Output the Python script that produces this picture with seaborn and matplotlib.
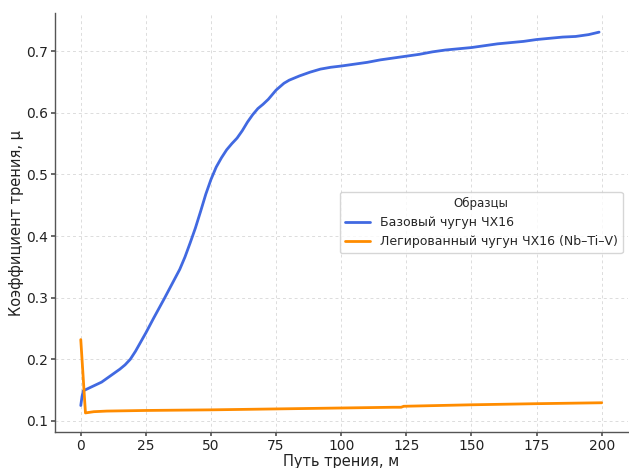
import matplotlib
matplotlib.use("Agg")
import matplotlib.pyplot as plt
import seaborn as sns
import pandas as pd

base_x = [0, 0.5, 1, 3, 5, 8, 11, 15, 17, 19, 21, 23, 25, 28, 32, 35, 38, 40, 42, 44, 46, 48,
          50, 52, 54, 56, 58, 60, 62, 64, 66, 68, 70, 72, 75, 78, 80, 84, 88, 92, 96, 100,
          105, 110, 115, 120, 125, 130, 135, 140, 145, 150, 155, 160, 165, 170, 175, 180,
          185, 190, 195, 199]
base_y = [0.125, 0.140, 0.149, 0.153, 0.157, 0.163, 0.172, 0.184, 0.191, 0.200, 0.213,
          0.228, 0.243, 0.267, 0.298, 0.322, 0.346, 0.366, 0.389, 0.413, 0.440, 0.468,
          0.492, 0.512, 0.527, 0.540, 0.550, 0.559, 0.571, 0.585, 0.597, 0.607, 0.614,
          0.622, 0.637, 0.648, 0.653, 0.660, 0.666, 0.671, 0.674, 0.676, 0.679, 0.682,
          0.686, 0.689, 0.692, 0.695, 0.699, 0.702, 0.704, 0.706, 0.709, 0.712, 0.714,
          0.716, 0.719, 0.721, 0.723, 0.724, 0.727, 0.731]

alloy_x = [0, 1.8, 5, 10, 25, 50, 75, 100, 120, 123, 124, 150, 175, 200]
alloy_y = [0.232, 0.113, 0.115, 0.116, 0.117, 0.118, 0.1195, 0.121, 0.1222, 0.1222,
           0.1238, 0.1262, 0.128, 0.1295]

labels = ["Базовый чугун ЧХ16", "Легированный чугун ЧХ16 (Nb–Ti–V)"]
colors = ["#4169E1", "#FF8C00"]

df = pd.concat([
    pd.DataFrame({"x": base_x, "y": base_y, "s": labels[0]}),
    pd.DataFrame({"x": alloy_x, "y": alloy_y, "s": labels[1]}),
])

sns.set_theme(style="ticks")
plt.rcParams["font.family"] = ["DejaVu Sans"]

fig, ax = plt.subplots(figsize=(6.29, 4.68), dpi=100)
fig.subplots_adjust(left=0.087, right=0.998, top=0.972, bottom=0.077)

sns.lineplot(data=df, x="x", y="y", hue="s", palette=colors, linewidth=2.0,
             ax=ax, sort=False, estimator=None)

ax.grid(True, linestyle=(0, (3, 3)), color="#dcdcdc", linewidth=0.7)
ax.set_axisbelow(True)
for s in ["top", "right"]:
    ax.spines[s].set_visible(False)
for s in ["left", "bottom"]:
    ax.spines[s].set_color("#555555")
    ax.spines[s].set_linewidth(1.0)
ax.tick_params(axis="both", labelsize=10, length=3, color="#555555", labelcolor="#222222",
               pad=2)

ax.set_xticks([0, 25, 50, 75, 100, 125, 150, 175, 200])
ax.set_yticks([0.1, 0.2, 0.3, 0.4, 0.5, 0.6, 0.7])
ax.set_xlabel("Путь трения, м", fontsize=10.5, labelpad=1, color="#222222")
ax.set_ylabel("Коэффициент трения, μ", fontsize=10.5, labelpad=1, color="#222222")

leg = ax.legend(title="Образцы", loc="center right", fontsize=9, title_fontsize=8.5,
                frameon=True, borderaxespad=0.4)
leg.get_frame().set_edgecolor("#cccccc")

fig.savefig("out.png", dpi=100)
